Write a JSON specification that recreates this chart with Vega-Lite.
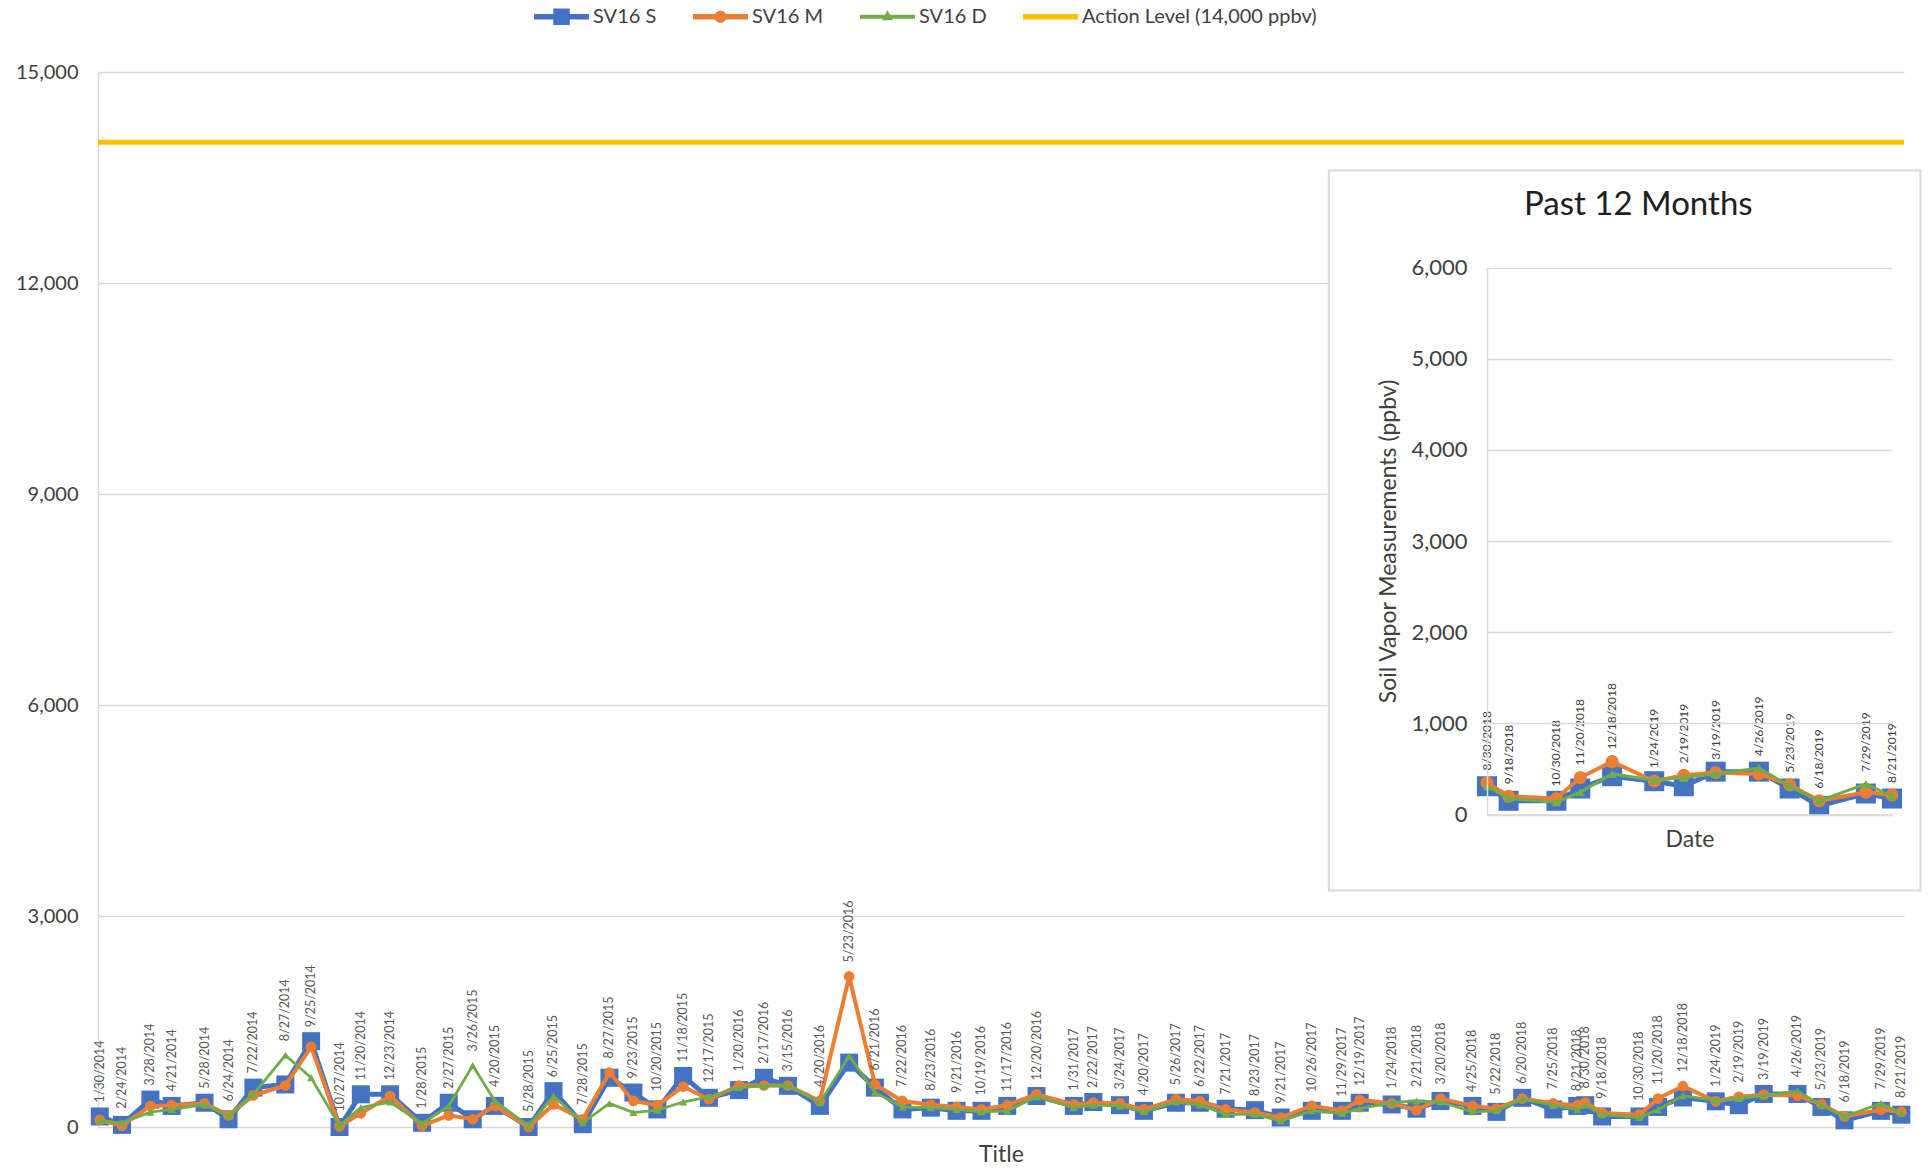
{
"$schema":"https://vega.github.io/schema/vega-lite/v6.json",
"autosize":{"type":"none"},
"padding":{"left":98,"top":72,"right":24,"bottom":44},
"width":1806,"height":1055,
"config":{"view":{"stroke":null},"font":"Lato","axis":{"labelFont":"Lato","titleFont":"Lato","titleFontWeight":"normal","labelColor":"#404040","titleColor":"#404040"},"legend":{"labelFont":"Lato"}},
"datasets":{"pts":[
{"date":"2014-01-30","S":150,"M":100,"D":90},
{"date":"2014-02-24","S":30,"M":20,"D":60},
{"date":"2014-03-28","S":390,"M":300,"D":210},
{"date":"2014-04-21","S":300,"M":310,"D":250},
{"date":"2014-05-28","S":345,"M":335,"D":320},
{"date":"2014-06-24","S":110,"M":165,"D":155},
{"date":"2014-07-22","S":560,"M":450,"D":465},
{"date":"2014-08-27","S":605,"M":590,"D":1020},
{"date":"2014-09-25","S":1220,"M":1140,"D":700},
{"date":"2014-10-27","S":0,"M":10,"D":20},
{"date":"2014-11-20","S":465,"M":195,"D":275},
{"date":"2014-12-23","S":465,"M":440,"D":355},
{"date":"2015-01-28","S":60,"M":15,"D":50},
{"date":"2015-02-27","S":345,"M":165,"D":300},
{"date":"2015-03-26","S":110,"M":110,"D":875},
{"date":"2015-04-20","S":300,"M":300,"D":370},
{"date":"2015-05-28","S":0,"M":0,"D":15},
{"date":"2015-06-25","S":510,"M":320,"D":440},
{"date":"2015-07-28","S":40,"M":110,"D":60},
{"date":"2015-08-27","S":700,"M":775,"D":335},
{"date":"2015-09-23","S":490,"M":370,"D":205},
{"date":"2015-10-20","S":250,"M":310,"D":240},
{"date":"2015-11-18","S":725,"M":575,"D":355},
{"date":"2015-12-17","S":415,"M":395,"D":430},
{"date":"2016-01-20","S":525,"M":590,"D":560},
{"date":"2016-02-17","S":700,"M":590,"D":585},
{"date":"2016-03-15","S":585,"M":590,"D":590},
{"date":"2016-04-20","S":300,"M":370,"D":345},
{"date":"2016-05-23","S":915,"M":2140,"D":1010},
{"date":"2016-06-21","S":560,"M":605,"D":490},
{"date":"2016-07-22","S":250,"M":370,"D":285},
{"date":"2016-08-23","S":275,"M":315,"D":275},
{"date":"2016-09-21","S":230,"M":285,"D":250},
{"date":"2016-10-19","S":230,"M":250,"D":215},
{"date":"2016-11-17","S":300,"M":310,"D":230},
{"date":"2016-12-20","S":440,"M":465,"D":430},
{"date":"2017-01-31","S":300,"M":320,"D":275},
{"date":"2017-02-22","S":355,"M":345,"D":310},
{"date":"2017-03-24","S":310,"M":335,"D":300},
{"date":"2017-04-20","S":230,"M":250,"D":215},
{"date":"2017-05-26","S":345,"M":395,"D":355},
{"date":"2017-06-22","S":345,"M":370,"D":315},
{"date":"2017-07-21","S":260,"M":250,"D":180},
{"date":"2017-08-23","S":240,"M":205,"D":180},
{"date":"2017-09-21","S":135,"M":135,"D":85},
{"date":"2017-10-26","S":230,"M":300,"D":230},
{"date":"2017-11-29","S":230,"M":230,"D":195},
{"date":"2017-12-19","S":345,"M":385,"D":260},
{"date":"2018-01-24","S":320,"M":335,"D":345},
{"date":"2018-02-21","S":260,"M":240,"D":370},
{"date":"2018-03-20","S":370,"M":405,"D":355},
{"date":"2018-04-25","S":300,"M":300,"D":215},
{"date":"2018-05-22","S":215,"M":260,"D":230},
{"date":"2018-06-20","S":415,"M":405,"D":395},
{"date":"2018-07-25","S":250,"M":335,"D":310},
{"date":"2018-08-21","S":300,"M":310,"D":250},
{"date":"2018-08-30","S":310,"M":350,"D":310},
{"date":"2018-09-18","S":150,"M":200,"D":175},
{"date":"2018-10-30","S":150,"M":175,"D":135},
{"date":"2018-11-20","S":285,"M":405,"D":245},
{"date":"2018-12-18","S":420,"M":580,"D":445},
{"date":"2019-01-24","S":365,"M":365,"D":375},
{"date":"2019-02-19","S":310,"M":430,"D":405},
{"date":"2019-03-19","S":470,"M":460,"D":445},
{"date":"2019-04-26","S":470,"M":445,"D":510},
{"date":"2019-05-23","S":285,"M":325,"D":310},
{"date":"2019-06-18","S":95,"M":150,"D":150},
{"date":"2019-07-29","S":230,"M":245,"D":335},
{"date":"2019-08-21","S":175,"M":215,"D":200}
]},
"layer":[
{
 "layer":[
  {"data":{"values":[{"series":"Action Level (14,000 ppbv)","level":14000}]},
   "mark":{"type":"rule","color":"#FFC000","strokeWidth":5},
   "encoding":{"y":{"field":"level","type":"quantitative","scale":{"domain":[0,15000],"nice":false},
     "axis":{"title":null,"values":[0,3000,6000,9000,12000,15000],"format":",.0f","labelFontSize":20,"labelPadding":20,"ticks":false,"grid":true,"gridColor":"#d9d9d9","gridWidth":1.5,"domain":true,"domainColor":"#d9d9d9","domainWidth":1.5}}}},
  {"data":{"name":"pts"},
   "encoding":{"x":{"field":"date","type":"temporal",
     "scale":{"domain":[{"year":2014,"month":1,"date":28,"utc":true},{"year":2019,"month":8,"date":24,"utc":true}],"nice":false},
     "axis":{"title":"Title","labels":false,"ticks":false,"domain":false,"grid":false,"titleFontSize":23,"titlePadding":16}}},
   "layer":[
    {"mark":{"type":"line","color":"#4472C4","strokeWidth":5},"encoding":{"y":{"field":"S","type":"quantitative","scale":{"domain":[0,15000],"nice":false},"axis":{"title":null,"values":[0,3000,6000,9000,12000,15000],"format":",.0f","labelFontSize":20,"labelPadding":20,"ticks":false,"grid":true,"gridColor":"#d9d9d9","gridWidth":1.5,"domain":true,"domainColor":"#d9d9d9","domainWidth":1.5}}}},
    {"mark":{"type":"point","shape":"square","filled":true,"size":324,"color":"#4472C4","opacity":1},"encoding":{"y":{"field":"S","type":"quantitative","scale":{"domain":[0,15000],"nice":false},"axis":{"title":null,"values":[0,3000,6000,9000,12000,15000],"format":",.0f","labelFontSize":20,"labelPadding":20,"ticks":false,"grid":true,"gridColor":"#d9d9d9","gridWidth":1.5,"domain":true,"domainColor":"#d9d9d9","domainWidth":1.5}}}},
    {"mark":{"type":"line","color":"#ED7D31","strokeWidth":4},"encoding":{"y":{"field":"M","type":"quantitative","scale":{"domain":[0,15000],"nice":false},"axis":{"title":null,"values":[0,3000,6000,9000,12000,15000],"format":",.0f","labelFontSize":20,"labelPadding":20,"ticks":false,"grid":true,"gridColor":"#d9d9d9","gridWidth":1.5,"domain":true,"domainColor":"#d9d9d9","domainWidth":1.5}}}},
    {"mark":{"type":"point","shape":"circle","filled":true,"size":115,"color":"#ED7D31","opacity":1},"encoding":{"y":{"field":"M","type":"quantitative","scale":{"domain":[0,15000],"nice":false},"axis":{"title":null,"values":[0,3000,6000,9000,12000,15000],"format":",.0f","labelFontSize":20,"labelPadding":20,"ticks":false,"grid":true,"gridColor":"#d9d9d9","gridWidth":1.5,"domain":true,"domainColor":"#d9d9d9","domainWidth":1.5}}}},
    {"mark":{"type":"line","color":"#70AD47","strokeWidth":2.8},"encoding":{"y":{"field":"D","type":"quantitative","scale":{"domain":[0,15000],"nice":false},"axis":{"title":null,"values":[0,3000,6000,9000,12000,15000],"format":",.0f","labelFontSize":20,"labelPadding":20,"ticks":false,"grid":true,"gridColor":"#d9d9d9","gridWidth":1.5,"domain":true,"domainColor":"#d9d9d9","domainWidth":1.5}}}},
    {"mark":{"type":"point","shape":"triangle-up","filled":true,"size":65,"color":"#70AD47","opacity":1},"encoding":{"y":{"field":"D","type":"quantitative","scale":{"domain":[0,15000],"nice":false},"axis":{"title":null,"values":[0,3000,6000,9000,12000,15000],"format":",.0f","labelFontSize":20,"labelPadding":20,"ticks":false,"grid":true,"gridColor":"#d9d9d9","gridWidth":1.5,"domain":true,"domainColor":"#d9d9d9","domainWidth":1.5}}}},
    {"transform":[{"fold":["S","M","D"],"as":["series","value"]},{"aggregate":[{"op":"max","field":"value","as":"top"}],"groupby":["date"]}],
     "mark":{"type":"text","angle":270,"align":"left","baseline":"middle","dx":14,"fontSize":12.5,"color":"#595959","font":"Lato"},
     "encoding":{"y":{"field":"top","type":"quantitative","scale":{"domain":[0,15000],"nice":false},"axis":{"title":null,"values":[0,3000,6000,9000,12000,15000],"format":",.0f","labelFontSize":20,"labelPadding":20,"ticks":false,"grid":true,"gridColor":"#d9d9d9","gridWidth":1.5,"domain":true,"domainColor":"#d9d9d9","domainWidth":1.5}},"text":{"field":"date","type":"temporal","timeUnit":"utcyearmonthdate","format":"%-m/%-d/%Y"}}}
   ]}
 ]
},
{
 "layer":[
  {"data":{"values":[{"corner":"frame"}]},
   "mark":{"type":"rect","fill":"white","stroke":"#d9d9d9","strokeWidth":2},
   "encoding":{"x":{"datum":{"year":2018,"month":4,"date":13,"utc":true},"type":"temporal","scale":{"domain":[{"year":2018,"month":8,"date":30,"utc":true},{"year":2019,"month":8,"date":21,"utc":true}],"range":[1389,1794],"nice":false},"axis":{"orient":"bottom","offset":-312.5,"labels":false,"ticks":false,"grid":false,"domain":true,"domainColor":"#d9d9d9","domainWidth":1.5,"title":"Date","titleFontSize":23,"titlePadding":14,"zindex":1}},
     "x2":{"datum":{"year":2019,"month":9,"date":15,"utc":true}},
     "y":{"datum":-834,"type":"quantitative","scale":{"domain":[0,6000],"range":[742.5,195.5],"nice":false},"axis":{"orient":"left","offset":-1389,"values":[0,1000,2000,3000,4000,5000,6000],"format":",.0f","grid":true,"gridColor":"#d9d9d9","gridWidth":1.5,"ticks":false,"labelFontSize":22,"labelPadding":20,"domain":true,"domainColor":"#d9d9d9","domainWidth":1.5,"title":"Soil Vapor Measurements (ppbv)","titleFontSize":23,"titlePadding":10,"zindex":1}},
     "y2":{"datum":7064}}},
  {"data":{"name":"pts"},
   "transform":[{"filter":"time(datum.date) >= utc(2018,7,30)"}],
   "encoding":{"x":{"field":"date","type":"temporal","scale":{"domain":[{"year":2018,"month":8,"date":30,"utc":true},{"year":2019,"month":8,"date":21,"utc":true}],"range":[1389,1794],"nice":false},"axis":{"orient":"bottom","offset":-312.5,"labels":false,"ticks":false,"grid":false,"domain":true,"domainColor":"#d9d9d9","domainWidth":1.5,"title":"Date","titleFontSize":23,"titlePadding":14,"zindex":1}}},
   "layer":[
    {"mark":{"type":"line","color":"#4472C4","strokeWidth":5},"encoding":{"y":{"field":"S","type":"quantitative","scale":{"domain":[0,6000],"range":[742.5,195.5],"nice":false},"axis":{"orient":"left","offset":-1389,"values":[0,1000,2000,3000,4000,5000,6000],"format":",.0f","grid":true,"gridColor":"#d9d9d9","gridWidth":1.5,"ticks":false,"labelFontSize":22,"labelPadding":20,"domain":true,"domainColor":"#d9d9d9","domainWidth":1.5,"title":"Soil Vapor Measurements (ppbv)","titleFontSize":23,"titlePadding":10,"zindex":1}}}},
    {"mark":{"type":"point","shape":"square","filled":true,"size":400,"color":"#4472C4","opacity":1},"encoding":{"y":{"field":"S","type":"quantitative","scale":{"domain":[0,6000],"range":[742.5,195.5],"nice":false},"axis":{"orient":"left","offset":-1389,"values":[0,1000,2000,3000,4000,5000,6000],"format":",.0f","grid":true,"gridColor":"#d9d9d9","gridWidth":1.5,"ticks":false,"labelFontSize":22,"labelPadding":20,"domain":true,"domainColor":"#d9d9d9","domainWidth":1.5,"title":"Soil Vapor Measurements (ppbv)","titleFontSize":23,"titlePadding":10,"zindex":1}}}},
    {"mark":{"type":"line","color":"#ED7D31","strokeWidth":4},"encoding":{"y":{"field":"M","type":"quantitative","scale":{"domain":[0,6000],"range":[742.5,195.5],"nice":false},"axis":{"orient":"left","offset":-1389,"values":[0,1000,2000,3000,4000,5000,6000],"format":",.0f","grid":true,"gridColor":"#d9d9d9","gridWidth":1.5,"ticks":false,"labelFontSize":22,"labelPadding":20,"domain":true,"domainColor":"#d9d9d9","domainWidth":1.5,"title":"Soil Vapor Measurements (ppbv)","titleFontSize":23,"titlePadding":10,"zindex":1}}}},
    {"mark":{"type":"point","shape":"circle","filled":true,"size":170,"color":"#ED7D31","opacity":1},"encoding":{"y":{"field":"M","type":"quantitative","scale":{"domain":[0,6000],"range":[742.5,195.5],"nice":false},"axis":{"orient":"left","offset":-1389,"values":[0,1000,2000,3000,4000,5000,6000],"format":",.0f","grid":true,"gridColor":"#d9d9d9","gridWidth":1.5,"ticks":false,"labelFontSize":22,"labelPadding":20,"domain":true,"domainColor":"#d9d9d9","domainWidth":1.5,"title":"Soil Vapor Measurements (ppbv)","titleFontSize":23,"titlePadding":10,"zindex":1}}}},
    {"mark":{"type":"line","color":"#70AD47","strokeWidth":3},"encoding":{"y":{"field":"D","type":"quantitative","scale":{"domain":[0,6000],"range":[742.5,195.5],"nice":false},"axis":{"orient":"left","offset":-1389,"values":[0,1000,2000,3000,4000,5000,6000],"format":",.0f","grid":true,"gridColor":"#d9d9d9","gridWidth":1.5,"ticks":false,"labelFontSize":22,"labelPadding":20,"domain":true,"domainColor":"#d9d9d9","domainWidth":1.5,"title":"Soil Vapor Measurements (ppbv)","titleFontSize":23,"titlePadding":10,"zindex":1}}}},
    {"mark":{"type":"point","shape":"triangle-up","filled":true,"size":85,"color":"#70AD47","opacity":1},"encoding":{"y":{"field":"D","type":"quantitative","scale":{"domain":[0,6000],"range":[742.5,195.5],"nice":false},"axis":{"orient":"left","offset":-1389,"values":[0,1000,2000,3000,4000,5000,6000],"format":",.0f","grid":true,"gridColor":"#d9d9d9","gridWidth":1.5,"ticks":false,"labelFontSize":22,"labelPadding":20,"domain":true,"domainColor":"#d9d9d9","domainWidth":1.5,"title":"Soil Vapor Measurements (ppbv)","titleFontSize":23,"titlePadding":10,"zindex":1}}}},
    {"transform":[{"fold":["S","M","D"],"as":["series","value"]},{"aggregate":[{"op":"max","field":"value","as":"top"}],"groupby":["date"]}],
     "mark":{"type":"text","angle":270,"align":"left","baseline":"middle","dx":12,"fontSize":12,"color":"#404040","font":"Lato"},
     "encoding":{"y":{"field":"top","type":"quantitative","scale":{"domain":[0,6000],"range":[742.5,195.5],"nice":false},"axis":{"orient":"left","offset":-1389,"values":[0,1000,2000,3000,4000,5000,6000],"format":",.0f","grid":true,"gridColor":"#d9d9d9","gridWidth":1.5,"ticks":false,"labelFontSize":22,"labelPadding":20,"domain":true,"domainColor":"#d9d9d9","domainWidth":1.5,"title":"Soil Vapor Measurements (ppbv)","titleFontSize":23,"titlePadding":10,"zindex":1}},"text":{"field":"date","type":"temporal","timeUnit":"utcyearmonthdate","format":"%-m/%-d/%Y"}}}
   ]},
  {"data":{"values":[{"t":"Past 12 Months"}]},
   "mark":{"type":"text","fontSize":33,"color":"#202020","font":"Lato","align":"center","baseline":"middle"},
   "encoding":{"x":{"datum":{"year":2019,"month":1,"date":10,"utc":true},"type":"temporal","scale":{"domain":[{"year":2018,"month":8,"date":30,"utc":true},{"year":2019,"month":8,"date":21,"utc":true}],"range":[1389,1794],"nice":false},"axis":{"orient":"bottom","offset":-312.5,"labels":false,"ticks":false,"grid":false,"domain":true,"domainColor":"#d9d9d9","domainWidth":1.5,"title":"Date","titleFontSize":23,"titlePadding":14,"zindex":1}},
     "y":{"datum":6691,"type":"quantitative","scale":{"domain":[0,6000],"range":[742.5,195.5],"nice":false},"axis":{"orient":"left","offset":-1389,"values":[0,1000,2000,3000,4000,5000,6000],"format":",.0f","grid":true,"gridColor":"#d9d9d9","gridWidth":1.5,"ticks":false,"labelFontSize":22,"labelPadding":20,"domain":true,"domainColor":"#d9d9d9","domainWidth":1.5,"title":"Soil Vapor Measurements (ppbv)","titleFontSize":23,"titlePadding":10,"zindex":1}},
     "text":{"field":"t","type":"nominal"}}}
 ]
},
{
 "data":{"values":[{"series":"SV16 S"}]},
 "transform":[{"filter":"false"}],
 "mark":{"type":"point","filled":true,"opacity":1,"strokeWidth":0},
 "encoding":{
  "color":{"field":"series","type":"nominal",
    "scale":{"domain":["SV16 S","SV16 M","SV16 D","Action Level (14,000 ppbv)"],"range":["#4472C4","#ED7D31","#70AD47","#FFC000"]},
    "legend":{"orient":"none","legendX":436,"legendY":-83,"direction":"horizontal","title":null,"symbolSize":3025,"symbolStrokeWidth":0,"labelFontSize":20,"labelColor":"#404040","labelOffset":4,"columnPadding":36,"labelLimit":500}},
  "shape":{"field":"series","type":"nominal",
    "scale":{"domain":["SV16 S","SV16 M","SV16 D","Action Level (14,000 ppbv)"],
      "range":["M-1,-0.1H1V0.1H-1Z M-0.3,-0.3H0.3V0.3H-0.3Z","M-1,-0.1H1V0.1H-1Z M0.22,0A0.22,0.22 0 1,1 -0.22,0A0.22,0.22 0 1,1 0.22,0Z","M-1,-0.07H1V0.07H-1Z M0,-0.24L0.2,0.13H-0.2Z","M-1,-0.1H1V0.1H-1Z"]},
    "legend":{"orient":"none","legendX":436,"legendY":-83,"direction":"horizontal","title":null,"symbolSize":3025,"symbolStrokeWidth":0,"labelFontSize":20,"labelColor":"#404040","labelOffset":4,"columnPadding":36,"labelLimit":500}}
 }
}
],
"resolve":{"scale":{"x":"independent","y":"independent"}}
}
